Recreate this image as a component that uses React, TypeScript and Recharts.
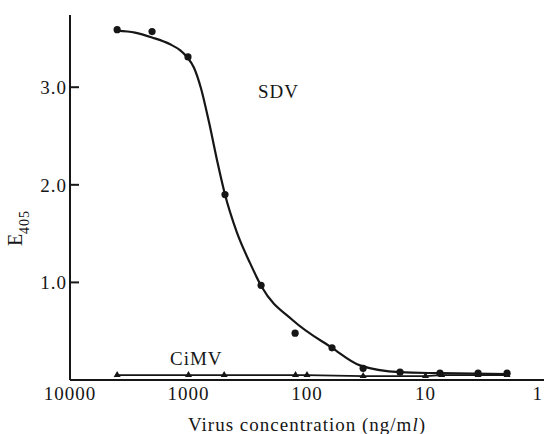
import { ComposedChart, Line, Scatter, XAxis, YAxis, Label } from "recharts";

const FONT = "'Liberation Serif', 'DejaVu Serif', serif";
const INK = "#161616";

// x ticks (ng/ml), axis runs from high to low concentration
const xTicks = [10000, 1000, 100, 10, 1];
const yTicks = [1, 2, 3];

// SDV measured points
const sdvConc = [4000, 2030, 1010, 492, 244, 126, 61.5, 33.6, 16.4, 7.55, 3.6, 2.05];
const sdvE = [3.59, 3.57, 3.31, 1.9, 0.97, 0.48, 0.33, 0.12, 0.08, 0.07, 0.07, 0.07];

// SDV fitted curve
const fitConc = [4010, 2830, 2030, 1430, 1180, 1030, 899, 785, 671, 574, 492, 390, 303, 240, 131, 61.5, 35.7, 16.4, 7.55, 2.05];
const fitE = [3.58, 3.56, 3.51, 3.44, 3.38, 3.31, 3.2, 2.99, 2.64, 2.25, 1.9, 1.51, 1.2, 0.95, 0.61, 0.33, 0.15, 0.08, 0.07, 0.06];

// CiMV points
const cimvConc = [4000, 1000, 500, 125, 100, 33.6, 10, 7.3, 3.6, 2.05];
const cimvE = [0.05, 0.05, 0.05, 0.05, 0.05, 0.04, 0.04, 0.05, 0.05, 0.05];

const sdvPoints = sdvConc.map((c, i) => ({ conc: c, e: sdvE[i] }));
const fitPoints = fitConc.map((c, i) => ({ conc: c, e: fitE[i] }));
const cimvPoints = cimvConc.map((c, i) => ({ conc: c, e: cimvE[i] }));

const XTick = (props: any) => {
  const { x, y, payload } = props;
  // last label sits on the page edge, keep it inside
  const atEdge = x > 536;
  return (
    <text
      x={atEdge ? 543 : x}
      y={y + 20}
      textAnchor={atEdge ? "end" : "middle"}
      fontSize={19}
      letterSpacing={1}
      fill={INK}
      fontFamily={FONT}
    >
      {payload.value}
    </text>
  );
};

const YTick = (props: any) => {
  const { x, y, payload } = props;
  return (
    <g>
      <line x1={x} x2={x + 9} y1={y} y2={y} stroke={INK} strokeWidth={2} />
      <text x={x - 3} y={y + 7} textAnchor="end" fontSize={19} letterSpacing={1} fill={INK} fontFamily={FONT}>
        {Number(payload.value).toFixed(1)}
      </text>
    </g>
  );
};

const XLabel = (props: any) => {
  const vb = props.viewBox || {};
  return (
    <text x={vb.x + vb.width / 2} y={431} textAnchor="middle" fontSize={19} letterSpacing={1} fill={INK} fontFamily={FONT}>
      Virus concentration (ng/m<tspan fontStyle="italic">l</tspan>)
    </text>
  );
};

const YLabel = () => (
  <text
    x={22}
    y={228}
    transform="rotate(-90 22 228)"
    textAnchor="middle"
    fontSize={20}
    fill={INK}
    fontFamily={FONT}
  >
    E<tspan fontSize={14} dy={7} letterSpacing={1}>405</tspan>
  </text>
);

const Dot = (props: any) => <circle cx={props.cx} cy={props.cy} r={3.6} fill={INK} />;

const Tri = (props: any) => {
  const { cx, cy } = props;
  return <polygon points={`${cx},${cy - 4} ${cx - 3.5},${cy + 2} ${cx + 3.5},${cy + 2}`} fill={INK} />;
};

export default function App() {
  return (
    <div style={{ position: "absolute", left: 0, top: 0, width: 544, height: 434, background: "#fff" }}>
      <ComposedChart
        width={544}
        height={434}
        margin={{ top: 15, right: 0, bottom: 0, left: 0 }}
        style={{ fontFamily: FONT }}
      >
        <XAxis
          dataKey="conc"
          type="number"
          scale="log"
          domain={[1, 10000]}
          reversed
          ticks={xTicks}
          interval={0}
          allowDataOverflow
          height={54}
          axisLine={{ stroke: INK, strokeWidth: 2 }}
          tickLine={false}
          tickSize={0}
          tickMargin={0}
          tick={XTick}
        >
          <Label content={XLabel} />
        </XAxis>
        <YAxis
          dataKey="e"
          type="number"
          domain={[0, 3.74]}
          ticks={yTicks}
          interval={0}
          allowDataOverflow
          width={70}
          axisLine={{ stroke: INK, strokeWidth: 2 }}
          tickLine={false}
          tickSize={0}
          tickMargin={0}
          tick={YTick}
        >
          <Label content={YLabel} />
        </YAxis>
        <Line
          data={fitPoints}
          dataKey="e"
          type="monotone"
          stroke={INK}
          strokeWidth={2.2}
          dot={false}
          isAnimationActive={false}
        />
        <Line
          data={cimvPoints}
          dataKey="e"
          type="linear"
          stroke={INK}
          strokeWidth={1.6}
          dot={false}
          isAnimationActive={false}
        />
        <Scatter data={sdvPoints} dataKey="e" shape={Dot} isAnimationActive={false} />
        <Scatter data={cimvPoints} dataKey="e" shape={Tri} isAnimationActive={false} />
        <text x={258} y={98} fontSize={19} letterSpacing={1} fill={INK} fontFamily={FONT}>
          SDV
        </text>
        <text x={170} y={365} fontSize={19} letterSpacing={1} fill={INK} fontFamily={FONT}>
          CiMV
        </text>
      </ComposedChart>
    </div>
  );
}
